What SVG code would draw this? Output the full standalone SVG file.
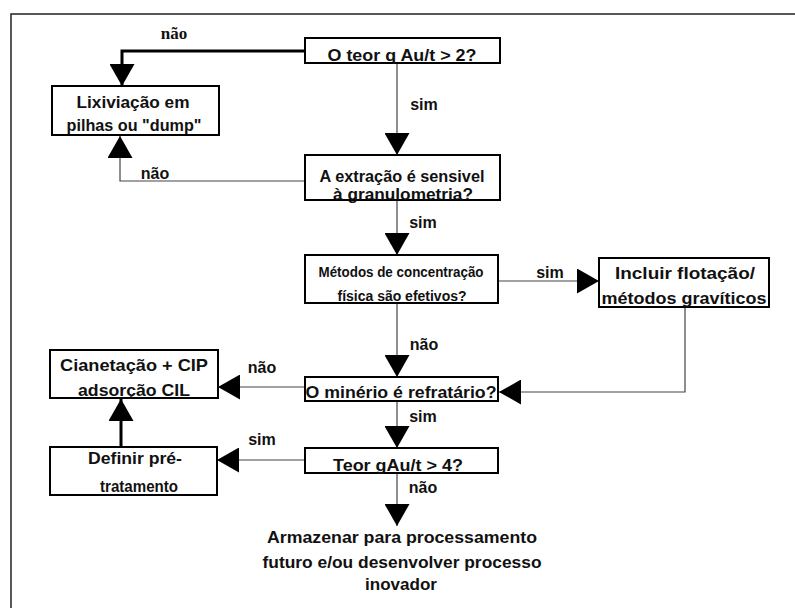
<svg xmlns="http://www.w3.org/2000/svg" width="795" height="612" viewBox="0 0 795 612">
  <style>
    .box { fill: #fff; stroke: #000; stroke-width: 2; }
    .t { font-family: "Liberation Sans", Arial, sans-serif; font-weight: bold; font-size: 17px; fill: #111; text-anchor: middle; }
    .ts { font-family: "Liberation Sans", Arial, sans-serif; font-weight: bold; font-size: 14px; fill: #111; text-anchor: middle; }
    .lbl { font-family: "Liberation Sans", Arial, sans-serif; font-weight: bold; font-size: 16px; fill: #111; }
    .lbls { font-family: "Liberation Serif", "Times New Roman", serif; font-weight: bold; font-size: 17px; fill: #111; }
    .thin { fill: none; stroke: #444; stroke-width: 1.2; marker-end: url(#head); }
    .thick { fill: none; stroke: #000; stroke-width: 3; marker-end: url(#head); }
    .frame { stroke: #222; stroke-width: 1.5; fill: none; }
  </style>
  <defs>
    <marker id="head" markerUnits="userSpaceOnUse" markerWidth="23" markerHeight="25" refX="22" refY="12.5" orient="auto" viewBox="0 0 23 25">
      <path d="M0,0 L22,12.5 L0,25 z" fill="#000"/>
    </marker>
  </defs>

  <rect width="795" height="612" fill="#fff"/>
  <!-- page frame -->
  <path class="frame" d="M11,608 V14 H795"/>

  <!-- connectors -->
  <g id="connectors">
    <path class="thick" d="M305,51 H122 V86"/>
    <path class="thin" d="M397,63 V155"/>
    <path class="thin" d="M305,181 H120 V136"/>
    <path class="thin" d="M397,200 V255"/>
    <path class="thin" d="M498,281 H599"/>
    <path class="thin" d="M397,303 V377"/>
    <path class="thin" d="M685,307 V392 H499"/>
    <path class="thin" d="M305,387 H218"/>
    <path class="thin" d="M397,401 V448"/>
    <path class="thin" d="M305,460 H217"/>
    <path class="thick" d="M121,447 V399"/>
    <path class="thin" d="M397,473 V526"/>

    <text class="lbls" x="174" y="39" text-anchor="middle">não</text>
    <text class="lbl" x="155" y="179" text-anchor="middle">não</text>
    <text class="lbl" x="424" y="110" text-anchor="middle">sim</text>
    <text class="lbl" x="423" y="228" text-anchor="middle">sim</text>
    <text class="lbl" x="550" y="278" text-anchor="middle">sim</text>
    <text class="lbl" x="424" y="350" text-anchor="middle">não</text>
    <text class="lbl" x="262" y="373" text-anchor="middle">não</text>
    <text class="lbl" x="423" y="422" text-anchor="middle">sim</text>
    <text class="lbl" x="262" y="445" text-anchor="middle">sim</text>
    <text class="lbl" x="423" y="493" text-anchor="middle">não</text>
  </g>

  <!-- decision: gold grade above 2 g/t -->
  <g id="teor2">
    <rect class="box" x="305" y="38" width="195" height="25"/>
    <text class="t" x="402" y="61" textLength="149" lengthAdjust="spacingAndGlyphs">O teor q Au/t &gt; 2?</text>
  </g>

  <g id="lixiviacao">
    <rect class="box" x="52" y="86" width="167" height="49"/>
    <text class="t" x="133" y="108" textLength="113" lengthAdjust="spacingAndGlyphs">Lixiviação em</text>
    <text class="t" x="134" y="131" textLength="135" lengthAdjust="spacingAndGlyphs">pilhas ou "dump"</text>
  </g>

  <g id="granulometria">
    <rect class="box" x="305" y="155" width="195" height="45"/>
    <text class="t" x="402" y="182" textLength="165" lengthAdjust="spacingAndGlyphs">A extração é sensivel</text>
    <text class="t" x="403" y="200" textLength="140" lengthAdjust="spacingAndGlyphs">à granulometria?</text>
  </g>

  <g id="concentracao">
    <rect class="box" x="305" y="255" width="193" height="48"/>
    <text class="ts" x="401" y="277" textLength="165" lengthAdjust="spacingAndGlyphs">Métodos de concentração</text>
    <text class="ts" x="402" y="301" textLength="129" lengthAdjust="spacingAndGlyphs">física são efetivos?</text>
  </g>

  <g id="flotacao">
    <rect class="box" x="599" y="258" width="170" height="49"/>
    <text class="t" x="685" y="279" textLength="140" lengthAdjust="spacingAndGlyphs">Incluir flotação/</text>
    <text class="t" x="684" y="304" textLength="165" lengthAdjust="spacingAndGlyphs">métodos gravíticos</text>
  </g>

  <g id="refratario">
    <rect class="box" x="305" y="377" width="193" height="24"/>
    <text class="t" x="401" y="398" textLength="191" lengthAdjust="spacingAndGlyphs">O minério é refratário?</text>
  </g>

  <g id="cianetacao">
    <rect class="box" x="50" y="350" width="168" height="48"/>
    <text class="t" x="134" y="371" textLength="148" lengthAdjust="spacingAndGlyphs">Cianetação + CIP</text>
    <text class="t" x="134" y="396" textLength="112" lengthAdjust="spacingAndGlyphs">adsorção CIL</text>
  </g>

  <g id="teor4">
    <rect class="box" x="305" y="448" width="193" height="25"/>
    <text class="t" x="398" y="471" textLength="130" lengthAdjust="spacingAndGlyphs">Teor gAu/t &gt; 4?</text>
  </g>

  <g id="pretratamento">
    <rect class="box" x="50" y="447" width="167" height="48"/>
    <text class="t" x="135" y="464" textLength="94" lengthAdjust="spacingAndGlyphs">Definir pré-</text>
    <text class="t" x="139" y="492" textLength="78" lengthAdjust="spacingAndGlyphs">tratamento</text>
  </g>

  <g id="armazenar">
    <text class="t" x="402" y="543" textLength="270" lengthAdjust="spacingAndGlyphs">Armazenar para processamento</text>
    <text class="t" x="402" y="568" textLength="279" lengthAdjust="spacingAndGlyphs">futuro e/ou desenvolver processo</text>
    <text class="t" x="401" y="590" textLength="72" lengthAdjust="spacingAndGlyphs">inovador</text>
  </g>
</svg>
